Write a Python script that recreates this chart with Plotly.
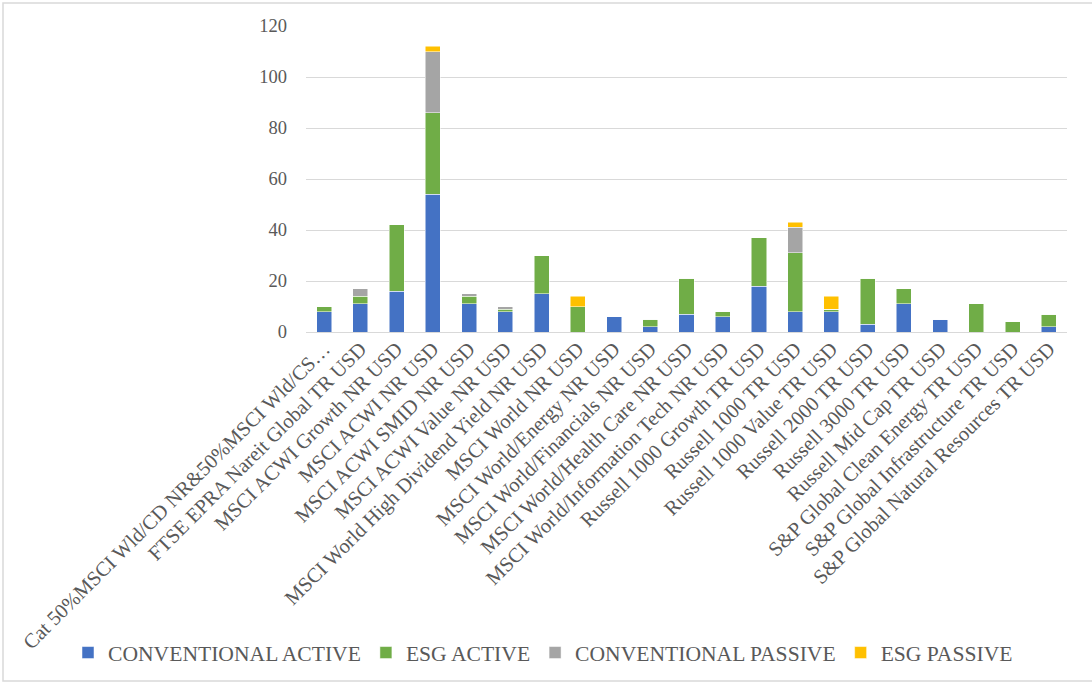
import plotly.graph_objects as go

categories = [
    "Cat 50%MSCI Wld/CD NR&50%MSCI Wld/CS…",
    "FTSE EPRA Nareit Global TR USD",
    "MSCI ACWI Growth NR USD",
    "MSCI ACWI NR USD",
    "MSCI ACWI SMID NR USD",
    "MSCI ACWI Value NR USD",
    "MSCI World High Dividend Yield NR USD",
    "MSCI World NR USD",
    "MSCI World/Energy NR USD",
    "MSCI World/Financials NR USD",
    "MSCI World/Health Care NR USD",
    "MSCI World/Information Tech NR USD",
    "Russell 1000 Growth TR USD",
    "Russell 1000 TR USD",
    "Russell 1000 Value TR USD",
    "Russell 2000 TR USD",
    "Russell 3000 TR USD",
    "Russell Mid Cap TR USD",
    "S&P Global Clean Energy TR USD",
    "S&P Global Infrastructure TR USD",
    "S&P Global Natural Resources TR USD",
]

conventional_active = [8, 11, 16, 54, 11, 8, 15, 0, 6, 2, 7, 6, 18, 8, 8, 3, 11, 5, 0, 0, 2]
esg_active          = [2, 3, 26, 32, 3, 1, 15, 10, 0, 3, 14, 2, 19, 23, 1, 18, 6, 0, 11, 4, 5]
conventional_passive = [0, 3, 0, 24, 1, 1, 0, 0, 0, 0, 0, 0, 0, 10, 0, 0, 0, 0, 0, 0, 0]
esg_passive         = [0, 0, 0, 2, 0, 0, 0, 4, 0, 0, 0, 0, 0, 2, 5, 0, 0, 0, 0, 0, 0]

series = [
    ("CONVENTIONAL ACTIVE", conventional_active, "#4472C4"),
    ("ESG ACTIVE", esg_active, "#70AD47"),
    ("CONVENTIONAL PASSIVE", conventional_passive, "#A5A5A5"),
    ("ESG PASSIVE", esg_passive, "#FFC000"),
]

FONT = "Liberation Serif, Times New Roman, serif"
TXT = "#595959"

fig = go.Figure()
for name, vals, col in series:
    fig.add_trace(go.Bar(
        x=categories, y=vals, name=name,
        marker=dict(color=col, line=dict(color="white", width=0.5)),
    ))

fig.update_layout(
    barmode="stack",
    bargap=0.585,
    width=1092, height=682,
    margin=dict(l=306, r=25, t=26, b=350, autoexpand=False),
    paper_bgcolor="white",
    plot_bgcolor="white",
    font=dict(family=FONT, size=18, color=TXT),
    showlegend=True,
    legend=dict(
        orientation="h", x=(68 - 306) / 761, xanchor="left", y=-1.049, yanchor="middle",
        font=dict(family=FONT, size=21.6, color=TXT),
        itemwidth=30, traceorder="normal",
    ),
    xaxis=dict(
        tickangle=-45, showgrid=False, showline=False, automargin=False,
        tickfont=dict(family=FONT, size=20.5, color=TXT),
        ticks="",
    ),
    yaxis=dict(
        range=[0, 120], dtick=20, showgrid=True, gridcolor="#D9D9D9", gridwidth=1.3,
        zeroline=True, zerolinecolor="#D9D9D9", zerolinewidth=1.3, automargin=False,
        showline=False, ticks="", ticklabelstandoff=18,
        tickfont=dict(family=FONT, size=18.5, color=TXT),
    ),
    shapes=[dict(
        type="rect", xref="paper", yref="paper",
        x0=(3 - 306) / 761, x1=(1100 - 306) / 761,
        y0=(332 - 681) / 306, y1=(332 - 3) / 306,
        line=dict(color="#D9D9D9", width=1.5), fillcolor="rgba(0,0,0,0)", layer="below",
    )],
)

fig.write_html("out.html")
